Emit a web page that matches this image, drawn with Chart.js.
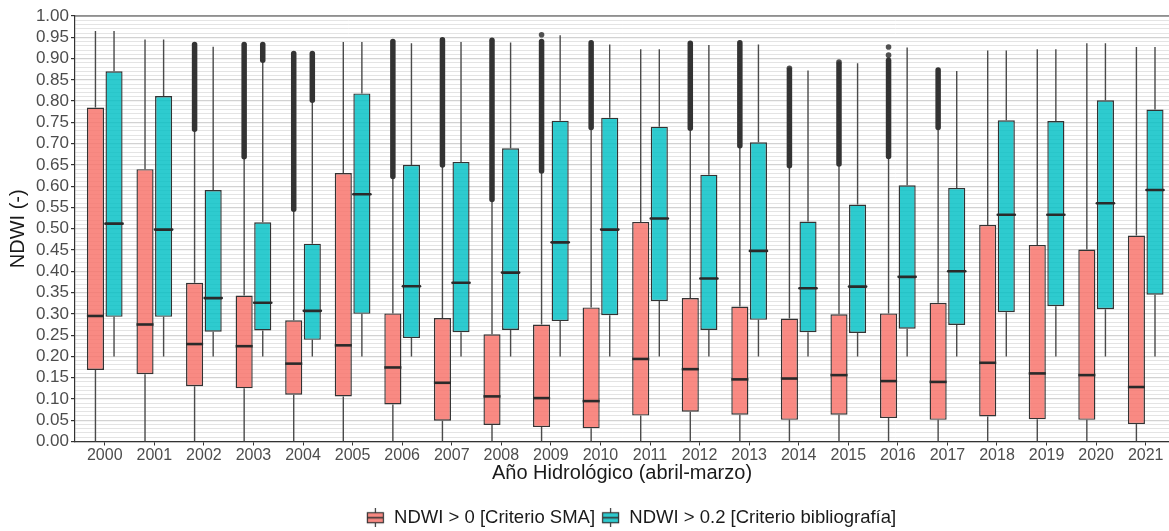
<!DOCTYPE html>
<html lang="es">
<head>
<meta charset="utf-8">
<title>NDWI por año hidrológico</title>
<script src="https://cdn.jsdelivr.net/npm/chart.js@4.4.1/dist/chart.umd.min.js"></script>
<style>
  html, body { margin: 0; padding: 0; background: #fff; }
</style>
</head>
<body>
<canvas id="boxplot" width="1169" height="531"></canvas>
<script>
// Años hidrológicos (abril-marzo)
const years = ["2000", "2001", "2002", "2003", "2004", "2005", "2006", "2007", "2008", "2009", "2010",
               "2011", "2012", "2013", "2014", "2015", "2016", "2017", "2018", "2019", "2020", "2021"];

// NDWI > 0 [Criterio SMA]
const smaLow  = [0, 0, 0, 0, 0, 0, 0, 0, 0, 0, 0, 0, 0, 0, 0, 0, 0, 0, 0, 0, 0, 0];
const smaQ1   = [0.168, 0.158, 0.130, 0.125, 0.110, 0.106, 0.087, 0.049, 0.039, 0.034, 0.031,
                 0.061, 0.070, 0.063, 0.051, 0.063, 0.055, 0.051, 0.059, 0.052, 0.051, 0.041];
const smaMed  = [0.295, 0.275, 0.229, 0.224, 0.183, 0.226, 0.174, 0.138, 0.106, 0.102, 0.095,
                 0.194, 0.170, 0.146, 0.148, 0.156, 0.142, 0.140, 0.185, 0.160, 0.156, 0.128];
const smaQ3   = [0.785, 0.640, 0.373, 0.343, 0.285, 0.631, 0.301, 0.290, 0.252, 0.275, 0.315,
                 0.516, 0.337, 0.317, 0.289, 0.299, 0.301, 0.326, 0.509, 0.462, 0.451, 0.484];
const smaHigh = [0.965, 0.945, 0.734, 0.669, 0.546, 0.939, 0.623, 0.650, 0.569, 0.636, 0.738,
                 0.922, 0.736, 0.695, 0.648, 0.652, 0.670, 0.738, 0.919, 0.922, 0.936, 0.927];
// rango de valores atípicos (muy densos, se ven como una franja)
const smaOutFrom = [null, null, 0.734, 0.669, 0.546, null, 0.623, 0.650, 0.569, 0.636, 0.738,
                    null, 0.736, 0.695, 0.648, 0.652, 0.670, 0.738, null, null, null, null];
const smaOutTo   = [null, null, 0.933, 0.933, 0.912, null, 0.940, 0.944, 0.943, 0.940, 0.937,
                    null, 0.936, 0.937, 0.873, 0.887, 0.896, 0.873, null, null, null, null];
// atípicos aislados [índice de año, valor]
const smaOutPts = [[9, 0.956], [14, 0.877], [15, 0.892], [16, 0.908], [16, 0.927]];

// NDWI > 0.2 [Criterio bibliografía]
const bibLow  = [0.20, 0.20, 0.20, 0.20, 0.20, 0.20, 0.20, 0.20, 0.20, 0.20, 0.20,
                 0.20, 0.20, 0.20, 0.20, 0.20, 0.20, 0.20, 0.20, 0.20, 0.20, 0.20];
const bibQ1   = [0.293, 0.293, 0.258, 0.261, 0.239, 0.300, 0.243, 0.257, 0.262, 0.283, 0.297,
                 0.330, 0.262, 0.286, 0.257, 0.255, 0.265, 0.274, 0.304, 0.318, 0.311, 0.345];
const bibMed  = [0.512, 0.498, 0.337, 0.326, 0.307, 0.581, 0.365, 0.373, 0.397, 0.468, 0.498,
                 0.524, 0.383, 0.448, 0.360, 0.364, 0.387, 0.400, 0.533, 0.533, 0.560, 0.591];
const bibQ3   = [0.870, 0.812, 0.591, 0.515, 0.465, 0.818, 0.650, 0.657, 0.689, 0.754, 0.761,
                 0.740, 0.627, 0.703, 0.517, 0.557, 0.602, 0.596, 0.755, 0.753, 0.802, 0.780];
const bibHigh = [0.965, 0.945, 0.928, 0.896, 0.802, 0.939, 0.936, 0.939, 0.938, 0.955, 0.933,
                 0.922, 0.932, 0.933, 0.872, 0.889, 0.926, 0.871, 0.919, 0.922, 0.936, 0.927];
const bibOutFrom = [null, null, null, 0.896, 0.802, null, null, null, null, null, null,
                    null, null, null, null, null, null, null, null, null, null, null];
const bibOutTo   = [null, null, null, 0.933, 0.912, null, null, null, null, null, null,
                    null, null, null, null, null, null, null, null, null, null, null];
const bibOutPts = [];

const series = [
  { low: smaLow, q1: smaQ1, med: smaMed, q3: smaQ3, high: smaHigh, outFrom: smaOutFrom, outTo: smaOutTo, pts: smaOutPts },
  { low: bibLow, q1: bibQ1, med: bibMed, q3: bibQ3, high: bibHigh, outFrom: bibOutFrom, outTo: bibOutTo, pts: bibOutPts }
];

const rojo = "rgba(248, 118, 109, 0.85)";
const turquesa = "rgba(0, 191, 196, 0.82)";
const gris = "#333333";

const isMajor = v => Math.abs(v * 20 - Math.round(v * 20)) < 1e-6;

// icono de leyenda: cajita con mediana y bigotes
function legendIcon(fill) {
  const c = document.createElement("canvas");
  c.width = 19; c.height = 19;
  const g = c.getContext("2d");
  g.strokeStyle = gris;
  g.lineWidth = 1.2;
  g.beginPath(); g.moveTo(9.5, 0); g.lineTo(9.5, 19); g.stroke();
  g.fillStyle = "#fff"; g.fillRect(1, 4, 17, 11);
  g.fillStyle = fill; g.fillRect(1, 4, 17, 11);
  g.strokeRect(1.5, 4.5, 16, 10);
  g.lineWidth = 1.6;
  g.beginPath(); g.moveTo(1, 9.5); g.lineTo(18, 9.5); g.stroke();
  return c;
}

// bigotes, medianas y atípicos dibujados sobre las barras flotantes
const boxplotExtras = {
  id: "boxplotExtras",
  afterLayout(chart) {
    // la leyenda va centrada respecto al panel, no al lienzo
    chart.legend.left += 93;
  },
  beforeDatasetsDraw(chart) {
    const { ctx, scales: { y } } = chart;
    ctx.save();
    ctx.strokeStyle = "#4a4a4a";
    ctx.lineWidth = 1.4;
    series.forEach((s, d) => {
      chart.getDatasetMeta(d).data.forEach((bar, i) => {
        ctx.beginPath();
        ctx.moveTo(bar.x, y.getPixelForValue(s.low[i]));
        ctx.lineTo(bar.x, y.getPixelForValue(s.q1[i]));
        ctx.moveTo(bar.x, y.getPixelForValue(s.q3[i]));
        ctx.lineTo(bar.x, y.getPixelForValue(s.high[i]));
        ctx.stroke();
      });
    });
    ctx.restore();
  },
  afterDatasetsDraw(chart) {
    const { ctx, chartArea, scales: { y } } = chart;
    ctx.save();
    series.forEach((s, d) => {
      const bars = chart.getDatasetMeta(d).data;
      // medianas
      ctx.strokeStyle = "#2a2a2a";
      ctx.lineWidth = 2.6;
      bars.forEach((bar, i) => {
        const py = y.getPixelForValue(s.med[i]);
        ctx.beginPath();
        ctx.moveTo(bar.x - bar.width / 2, py);
        ctx.lineTo(bar.x + bar.width / 2, py);
        ctx.stroke();
      });
      // franjas de atípicos
      ctx.strokeStyle = gris;
      ctx.lineWidth = 5.5;
      ctx.lineCap = "round";
      bars.forEach((bar, i) => {
        if (s.outFrom[i] === null) return;
        ctx.beginPath();
        ctx.moveTo(bar.x, y.getPixelForValue(s.outFrom[i]));
        ctx.lineTo(bar.x, y.getPixelForValue(s.outTo[i]));
        ctx.stroke();
      });
      ctx.fillStyle = "rgba(51, 51, 51, 0.85)";
      s.pts.forEach(([i, v]) => {
        ctx.beginPath();
        ctx.arc(bars[i].x, y.getPixelForValue(v), 2.8, 0, Math.PI * 2);
        ctx.fill();
      });
    });
    // borde superior del panel
    ctx.strokeStyle = "#4d4d4d";
    ctx.lineWidth = 1.2;
    ctx.lineCap = "butt";
    ctx.beginPath();
    ctx.moveTo(chartArea.left, chartArea.top);
    ctx.lineTo(chartArea.right, chartArea.top);
    ctx.stroke();
    ctx.restore();
  }
};

Chart.defaults.font.family = "'Liberation Sans', Arial, sans-serif";

new Chart(document.getElementById("boxplot"), {
  type: "bar",
  data: {
    datasets: [
      {
        label: "NDWI > 0 [Criterio SMA]",
        data: years.map((_, i) => ({ x: i, y: [smaQ1[i], smaQ3[i]] })),
        backgroundColor: rojo,
        borderColor: gris,
        borderWidth: 1.4,
        borderSkipped: false,
        pointStyle: legendIcon(rojo)
      },
      {
        label: "NDWI > 0.2 [Criterio bibliografía]",
        data: years.map((_, i) => ({ x: i, y: [bibQ1[i], bibQ3[i]] })),
        backgroundColor: turquesa,
        borderColor: gris,
        borderWidth: 1.4,
        borderSkipped: false,
        pointStyle: legendIcon(turquesa)
      }
    ]
  },
  options: {
    responsive: false,
    animation: false,
    categoryPercentage: 0.75,
    barPercentage: 0.92,
    layout: { padding: { top: 16, left: 0, right: 0, bottom: -6 } },
    plugins: {
      tooltip: { enabled: false },
      legend: {
        position: "bottom",
        labels: {
          usePointStyle: true,
          pointStyleWidth: 19,
          padding: 6,
          color: "#1a1a1a",
          font: { size: 18.5 }
        }
      }
    },
    scales: {
      x: {
        type: "linear",
        min: -0.6,
        max: 21.47,
        offset: false,
        afterBuildTicks: scale => { scale.ticks = years.map((_, i) => ({ value: i })); },
        afterFit: scale => { scale.height = 61; },
        ticks: {
          autoSkip: false,
          maxRotation: 0,
          padding: 0,
          color: "#4d4d4d",
          font: { size: 16 },
          callback: v => years[Math.round(v)]
        },
        grid: { drawOnChartArea: false, offset: false, tickLength: 4, tickColor: gris },
        border: { display: true, color: gris, width: 1.2 },
        title: {
          display: true,
          text: "Año Hidrológico (abril-marzo)",
          color: "#1a1a1a",
          font: { size: 20 },
          padding: { top: 0, bottom: 17 }
        }
      },
      y: {
        min: 0,
        max: 1,
        afterFit: scale => { scale.width = 75; },
        ticks: {
          stepSize: 0.01,
          autoSkip: false,
          padding: 2,
          color: "#4d4d4d",
          font: { size: 17 },
          callback: v => isMajor(v) ? v.toFixed(2) : ""
        },
        grid: {
          color: ctx => ctx.tick && isMajor(ctx.tick.value) ? "#d2d2d2" : "#e4e4e4",
          tickColor: ctx => ctx.tick && isMajor(ctx.tick.value) ? gris : "rgba(0,0,0,0)",
          tickLength: 4,
          lineWidth: ctx => ctx.tick && isMajor(ctx.tick.value) ? 1.2 : 1
        },
        border: { display: true, color: gris, width: 1.2 },
        title: {
          display: true,
          text: "NDWI (-)",
          color: "#1a1a1a",
          font: { size: 20 },
          padding: { top: 6, bottom: 0 }
        }
      }
    }
  },
  plugins: [boxplotExtras]
});
</script>
</body>
</html>
